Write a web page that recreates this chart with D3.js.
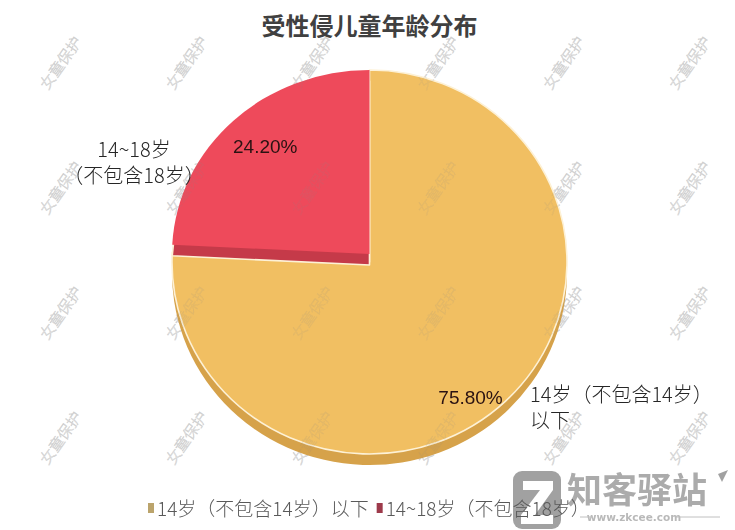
<!DOCTYPE html>
<html>
<head>
<meta charset="utf-8">
<script src="https://cdn.jsdelivr.net/npm/d3@7/dist/d3.min.js"></script>
<style>
  html, body { margin: 0; padding: 0; background: #ffffff; }
  svg { display: block; }
</style>
</head>
<body>
<svg id="chart" width="735" height="530"></svg>
<script>
// ---- data ----
const title = "受性侵儿童年龄分布";
const categories = ["14岁（不包含14岁）以下", "14~18岁（不包含18岁）"];
const labelLines = [["14岁（不包含14岁）", "以下"], ["14~18岁", "（不包含18岁）"]];
const values = [75.8, 24.2];

// ---- styles ----
const faceColors = ["#f1bf62", "#ee4a5b"];
const sideColors = ["#d6a24a", "#c53a49"];
const legendColors = ["#bba46c", "#9d3a4b"];

const W = 735, H = 530;
const svg = d3.select("#chart");
const cjk = "'Noto Sans CJK SC', 'Noto Sans', sans-serif";

function watermarks(parent, fill, stroke) {
  for (let c = 0; c < 6; c++) {
    for (let r = 0; r < 4; r++) {
      const x = 61 + c * 125.8, y = 63 + r * 125;
      parent.append("text")
        .attr("transform", `translate(${x},${y}) rotate(-55)`)
        .attr("text-anchor", "middle").attr("dy", "0.35em")
        .style("font-family", cjk).style("font-size", "15px").style("font-weight", "300")
        .attr("fill", fill).attr("stroke", stroke).attr("stroke-width", 0.35)
        .text("女童保护");
    }
  }
}

// watermark layer (behind)
watermarks(svg.append("g"), "#f0f0f0", "#d4d4d4");

// title
svg.append("text").attr("x", 369.5).attr("y", 35).attr("text-anchor", "middle")
  .style("font-family", cjk).style("font-size", "24px").style("font-weight", "bold")
  .attr("fill", "#404040").text(title);

// pie geometry
const R = 197.5;
const cx = 369.5;
const cy = [262, 254];      // face centres (slice 1 slightly lifted)
const ry = [192, 184];
const depth = [11, 11];

const pie = d3.pie().sort(null).value(d => d)(values);
const arc = d3.arc().innerRadius(0).outerRadius(R);

const pieG = svg.append("g");
function drawSlice(i, yOff, color, stroke) {
  const g = pieG.append("g")
    .attr("transform", `translate(${cx},${cy[i] + yOff}) scale(1,${ry[i] / R})`);
  g.append("path").attr("d", arc(pie[i])).attr("fill", color)
    .attr("stroke", stroke).attr("stroke-width", stroke === "none" ? 0 : 1.6)
    .attr("vector-effect", "non-scaling-stroke").attr("stroke-linejoin", "round");
}
drawSlice(0, depth[0], sideColors[0], "none");
drawSlice(0, 0, faceColors[0], "#fdf1d6");
drawSlice(1, depth[1], sideColors[1], "#fdf1d6");
drawSlice(1, 0, faceColors[1], "none");

// faint watermark over the pie
watermarks(svg.append("g").attr("opacity", 0.22), "none", "#8a8a8a");

// percentage labels
const total = d3.sum(values);
const fmt = d3.format(".2%");
const pctRadius = [0.86, 0.81];
const pctNudge = [[-16, 16], [6, 0]];
pie.forEach((d, i) => {
  const a = (d.startAngle + d.endAngle) / 2;
  const x = cx + Math.sin(a) * R * pctRadius[i] + pctNudge[i][0];
  const y = cy[i] - Math.cos(a) * ry[i] * pctRadius[i] + pctNudge[i][1];
  svg.append("text").attr("x", x).attr("y", y).attr("text-anchor", "middle")
    .attr("dy", "0.35em")
    .style("font-family", "'Liberation Sans', Arial, sans-serif").style("font-size", "19px")
    .attr("fill", "#2a1212").text(fmt(d.value / total));
});

// category labels (outside)
const catAnchor = [[530, 402, "start"], [134, 157, "middle"]];
labelLines.forEach((lines, i) => {
  const t = svg.append("text")
    .attr("text-anchor", catAnchor[i][2])
    .style("font-family", cjk).style("font-size", "20px").style("font-weight", "300")
    .attr("fill", "#262626");
  lines.forEach((ln, k) => {
    t.append("tspan").attr("x", catAnchor[i][0]).attr("y", catAnchor[i][1] + k * 26).text(ln);
  });
});

// site logo (bottom right) - drawn before legend text so legend overlaps it
const logo = svg.append("g").attr("opacity", 0.8);
logo.append("rect").attr("x", 513).attr("y", 471).attr("width", 48).attr("height", 58).attr("rx", 9)
  .attr("fill", "#8a8a8a");
logo.append("path").attr("d", "M523,481 L553,481 L553,490 L535,515 L553,515 L553,524 L521,524 L521,515 L540,490 L523,490 Z")
  .attr("fill", "#ffffff");
logo.append("text").attr("x", 567).attr("y", 503)
  .style("font-family", cjk).style("font-size", "35px").style("font-weight", "bold")
  .attr("fill", "#969696").attr("textLength", 140).text("知客驿站");
logo.append("path").attr("d", "M718,474 L728,470 L722,482 Z").attr("fill", "#8a8a8a");
logo.append("text").attr("x", 634).attr("y", 521).attr("text-anchor", "middle")
  .style("font-family", "'DejaVu Sans', sans-serif").style("font-size", "10.5px").style("font-weight", "bold")
  .attr("fill", "#a8a8a8").text("www.zkcee.com");
logo.append("line").attr("x1", 580).attr("x2", 593).attr("y1", 517).attr("y2", 517).attr("stroke", "#b0b0b0");
logo.append("line").attr("x1", 676).attr("x2", 720).attr("y1", 517).attr("y2", 517).attr("stroke", "#b0b0b0");

// legend
const lg = svg.append("g");
let lx = 148;
categories.forEach((c, i) => {
  lg.append("rect").attr("x", lx).attr("y", 503).attr("width", 6).attr("height", 10)
    .attr("fill", legendColors[i]);
  const t = lg.append("text").attr("x", lx + 9).attr("y", 516)
    .style("font-family", cjk).style("font-size", "19px").style("font-weight", "300")
    .attr("fill", "#595959").text(c);
  lx = lx + 9 + t.node().getComputedTextLength() + 8;
});
</script>
</body>
</html>
